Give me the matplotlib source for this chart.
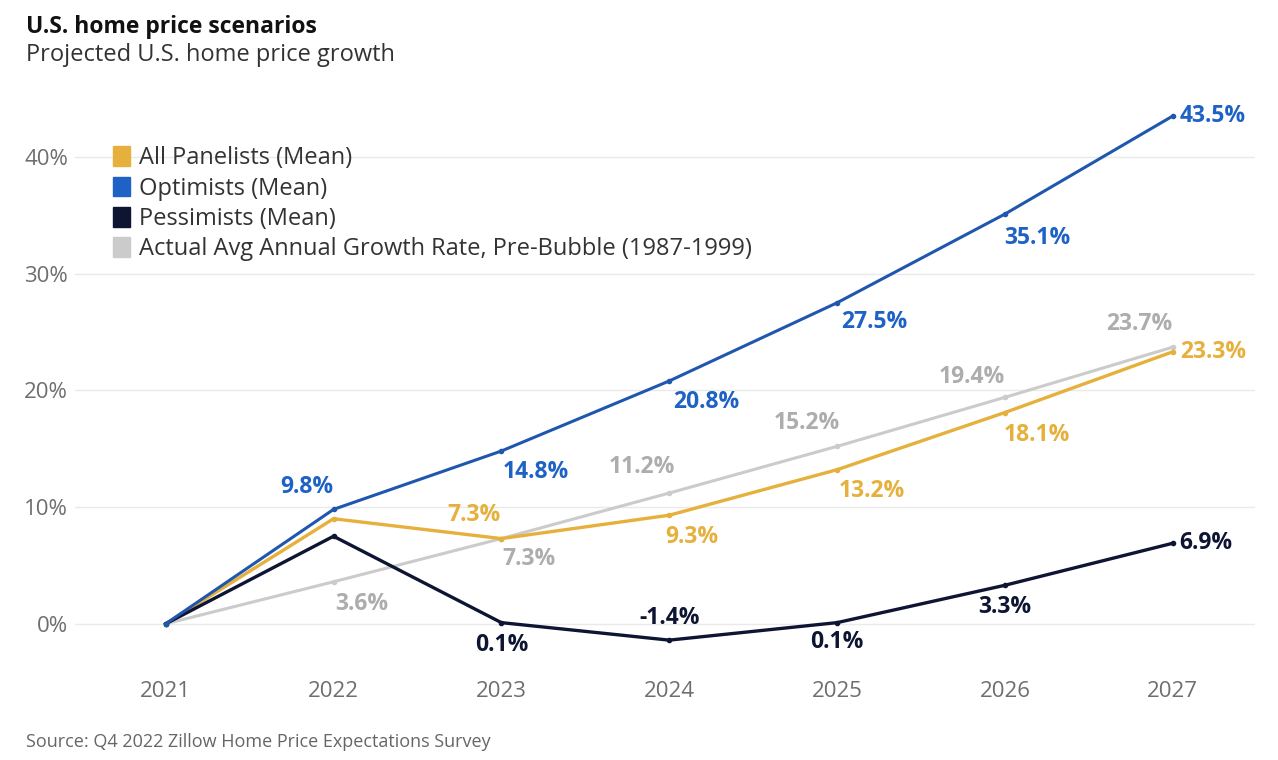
import matplotlib.pyplot as plt
from matplotlib.patches import Patch
from matplotlib.ticker import FuncFormatter

plt.rcParams['font.family'] = ['Open Sans', 'DejaVu Sans']

# Dane
lata = [2021, 2022, 2023, 2024, 2025, 2026, 2027]
wszyscy = [0, 9.0, 7.3, 9.3, 13.2, 18.1, 23.3]
optymisci = [0, 9.8, 14.8, 20.8, 27.5, 35.1, 43.5]
pesymisci = [0, 7.5, 0.1, -1.4, 0.1, 3.3, 6.9]
historyczne = [0, 3.6, 7.3, 11.2, 15.2, 19.4, 23.7]

nazwy = ['All Panelists (Mean)', 'Optimists (Mean)', 'Pessimists (Mean)',
         'Actual Avg Annual Growth Rate, Pre-Bubble (1987-1999)']

kol_wszyscy = '#E6B03C'
kol_opt = '#1D62C4'
kol_opt_linia = '#1F57AE'
kol_pes = '#0E1533'
kol_hist = '#CBCBCB'
kol_hist_txt = '#ADADAD'

fig = plt.figure(figsize=(12.78, 7.6), dpi=100)
ax = fig.add_axes([0.0587, 0.1316, 0.9233, 0.7434])

ax.plot(lata, historyczne, color=kol_hist, lw=2.2, marker='o', ms=3, zorder=2)
ax.plot(lata, wszyscy, color=kol_wszyscy, lw=2.4, marker='o', ms=3, zorder=3)
ax.plot(lata, pesymisci, color=kol_pes, lw=2.4, marker='o', ms=3, zorder=4)
ax.plot(lata, optymisci, color=kol_opt_linia, lw=2.2, marker='o', ms=3, zorder=5)

ax.set_xlim(2020.46, 2027.49)
ax.set_ylim(-3.1, 45.3)
ax.set_yticks([0, 10, 20, 30, 40])
ax.yaxis.set_major_formatter(FuncFormatter(lambda v, p: f'{v:.0f}%'))
ax.set_xticks(lata)
ax.tick_params(axis='both', length=0, labelsize=16, labelcolor='#6E6E6E')
ax.tick_params(axis='x', pad=15)
ax.tick_params(axis='y', pad=5)
ax.grid(axis='y', color='#EAEAEA', lw=1)
for s in ax.spines.values():
    s.set_visible(False)

fs = 16.5
def etykieta(x, y, tekst, kolor, dx, dy, ha='center'):
    ax.annotate(tekst, (x, y), xytext=(dx, dy), textcoords='offset points',
                ha=ha, va='center', fontsize=fs, fontweight='bold', color=kolor,
                zorder=6)

# Optymisci
etykieta(2022, 9.8, '9.8%', kol_opt, -19, 16)
etykieta(2023, 14.8, '14.8%', kol_opt, 25, -15)
etykieta(2024, 20.8, '20.8%', kol_opt, 27, -15)
etykieta(2025, 27.5, '27.5%', kol_opt, 27, -14)
etykieta(2026, 35.1, '35.1%', kol_opt, 23, -17)
etykieta(2027, 43.5, '43.5%', kol_opt, 5, 0, ha='left')

# Wszyscy
etykieta(2023, 7.3, '7.3%', kol_wszyscy, -20, 17)
etykieta(2024, 9.3, '9.3%', kol_wszyscy, 16, -16)
etykieta(2025, 13.2, '13.2%', kol_wszyscy, 25, -15)
etykieta(2026, 18.1, '18.1%', kol_wszyscy, 23, -16)
etykieta(2027, 23.3, '23.3%', kol_wszyscy, 5, 0, ha='left')

# Historyczne
etykieta(2022, 3.6, '3.6%', kol_hist_txt, 20, -16)
etykieta(2023, 7.3, '7.3%', kol_hist_txt, 20, -15)
etykieta(2024, 11.2, '11.2%', kol_hist_txt, -20, 19)
etykieta(2025, 15.2, '15.2%', kol_hist_txt, -22, 17)
etykieta(2026, 19.4, '19.4%', kol_hist_txt, -24, 15)
etykieta(2027, 23.7, '23.7%', kol_hist_txt, -24, 17)

# Pesymisci
etykieta(2023, 0.1, '0.1%', kol_pes, 0, -16)
etykieta(2024, -1.4, '-1.4%', kol_pes, 0, 16)
etykieta(2025, 0.1, '0.1%', kol_pes, 0, -14)
etykieta(2026, 3.3, '3.3%', kol_pes, 0, -16)
etykieta(2027, 6.9, '6.9%', kol_pes, 5, 0, ha='left')

uchwyty = [Patch(color=c) for c in [kol_wszyscy, kol_opt, kol_pes, kol_hist]]
ax.legend(uchwyty, nazwy, loc='upper left', bbox_to_anchor=(0.024, 0.926),
          frameon=False, fontsize=17, labelcolor='#333333',
          handlelength=0.75, handleheight=0.9, handletextpad=0.35,
          labelspacing=0.27, borderaxespad=0)

fig.text(0.02, 0.964, 'U.S. home price scenarios', fontsize=16.5, fontweight='bold',
         color='#111111', va='center')
fig.text(0.02, 0.928, 'Projected U.S. home price growth', fontsize=17,
         color='#333333', va='center')
fig.text(0.02, 0.024, 'Source: Q4 2022 Zillow Home Price Expectations Survey',
         fontsize=13, color='#666666', va='center')

fig.savefig('out.png', dpi=100)
